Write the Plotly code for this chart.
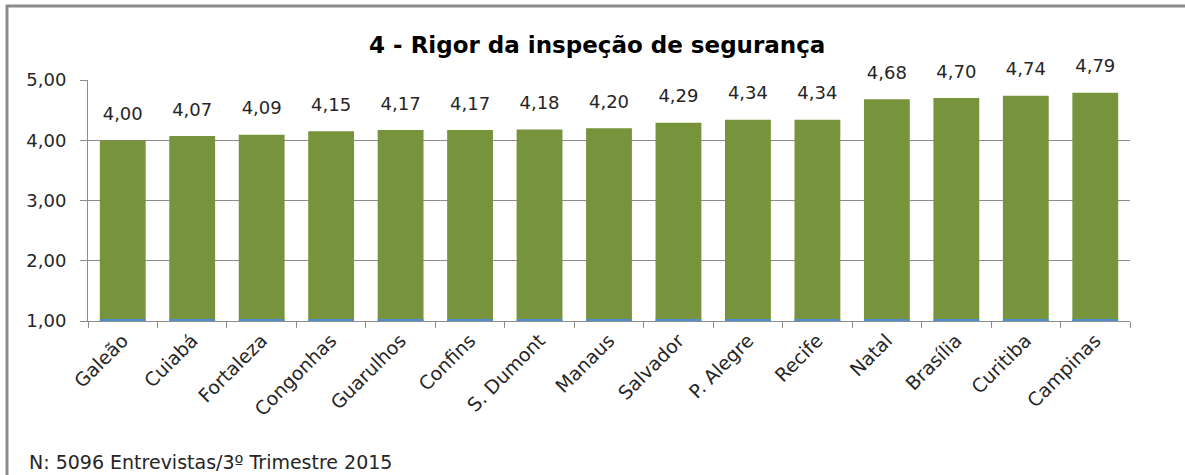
import plotly.graph_objects as go

categories = ["Galeão", "Cuiabá", "Fortaleza", "Congonhas", "Guarulhos", "Confins",
              "S. Dumont", "Manaus", "Salvador", "P. Alegre", "Recife", "Natal",
              "Brasília", "Curitiba", "Campinas"]
values = [4.00, 4.07, 4.09, 4.15, 4.17, 4.17, 4.18, 4.20, 4.29, 4.34, 4.34, 4.68, 4.70, 4.74, 4.79]
title_text = "4 - Rigor da inspeção de segurança"
footer_text = "N: 5096 Entrevistas/3º Trimestre 2015"

FONT = "'DejaVu Sans', Verdana, sans-serif"
GREEN = "#77933C"
GRID = "#8C8C8C"

W, H = 1185, 475
L, R, T, B = 88, 55, 80, 154
pw, ph = W - L - R, H - T - B

labels = [f"{v:.2f}".replace(".", ",") for v in values]

fig = go.Figure()
fig.add_trace(go.Bar(
    x=categories, y=[v - 1 for v in values], base=1,
    marker=dict(color=GREEN, line=dict(width=0)),
    hoverinfo="skip", showlegend=False,
))
# thin blue baseline under each bar
fig.add_trace(go.Bar(
    x=categories, y=[0.025] * len(categories), base=1,
    marker=dict(color="#4F8FD0", line=dict(width=0)),
    hoverinfo="skip", showlegend=False,
))
fig.add_trace(go.Scatter(
    x=categories, y=values, mode="markers+text",
    text=labels, textposition="top center",
    marker=dict(size=24, opacity=0),
    textfont=dict(family=FONT, size=18, color="#262626"),
    hoverinfo="skip", showlegend=False, cliponaxis=False,
))

fig.update_layout(
    width=W, height=H,
    margin=dict(l=L, r=R, t=T, b=B, pad=0),
    paper_bgcolor="white", plot_bgcolor="white",
    barmode="overlay", bargap=0.34,
    separators=",.",
    font=dict(family=FONT, size=18, color="#262626"),
    title=dict(text="<b>" + title_text + "</b>", x=0.504, xanchor="center",
               y=1 - 45 / H, yanchor="middle",
               font=dict(family=FONT, size=23, color="#000000")),
    xaxis=dict(
        type="category", showgrid=False, showline=True, linecolor=GRID, linewidth=1,
        ticks="outside", tickson="boundaries", ticklen=6, tickcolor=GRID,
        tickangle=-45, tickfont=dict(family=FONT, size=19, color="#262626"),
        range=[-0.5, len(categories) - 0.5],
    ),
    yaxis=dict(
        range=[1, 5], dtick=1, tick0=1, tickformat=".2f",
        showgrid=True, gridcolor=GRID, gridwidth=1,
        showline=True, linecolor=GRID, linewidth=1,
        ticks="outside", ticklen=7, tickcolor=GRID, ticklabelstandoff=10,
        tickfont=dict(family=FONT, size=18, color="#262626"),
        zeroline=False,
    ),
    shapes=[
        dict(type="line", xref="paper", yref="paper",
             x0=(6 - L) / pw, x1=(W - L) / pw, y0=1 + (T - 6) / ph, y1=1 + (T - 6) / ph,
             line=dict(color="#8A8A8A", width=3)),
        dict(type="line", xref="paper", yref="paper",
             x0=(7 - L) / pw, x1=(7 - L) / pw, y0=1 + (T - 5) / ph, y1=-(H - T - ph) / ph - 0.01,
             line=dict(color="#8A8A8A", width=3)),
    ],
    annotations=[
        dict(text=footer_text, xref="paper", yref="paper",
             x=(27 - L) / pw, y=-(462 - T - ph) / ph, xanchor="left", yanchor="middle",
             showarrow=False, font=dict(family=FONT, size=19, color="#262626")),
    ],
)

fig.write_html("out.html", config={"displayModeBar": False},
               post_script="document.body.style.margin='0px';")
